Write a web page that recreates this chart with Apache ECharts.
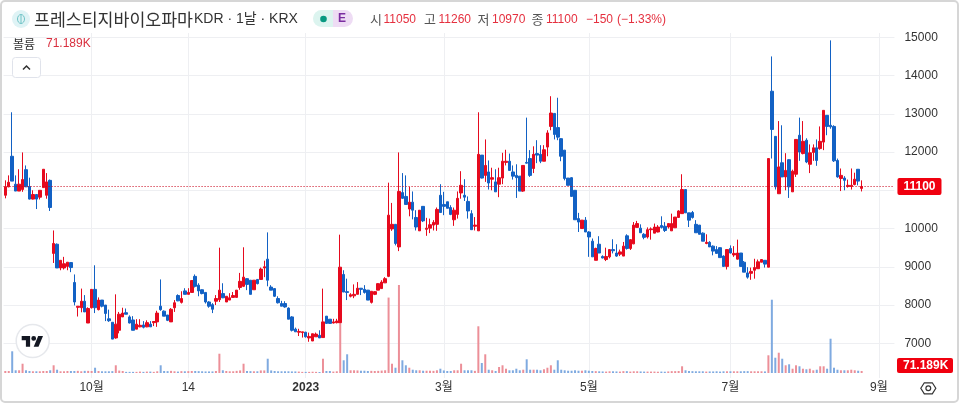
<!DOCTYPE html>
<html>
<head>
<meta charset="utf-8">
<title>프레스티지바이오파마</title>
<script src="https://cdn.jsdelivr.net/npm/echarts@6/dist/echarts.min.js"></script>
<style>
  html, body { margin: 0; padding: 0; background: #fff; }
  #chart { width: 960px; height: 404px; }
</style>
</head>
<body>
<div id="chart"></div>
<script>
// daily prices, one bar per trading day
const opens = [
  10870,11090,11890,11160,10980,11020,11540,11100,10770,10890,
  10820,11070,10870,11260,9350,9590,8970,8970,9010,9110,
  8590,7940,7930,8100,7530,7930,8410,7880,8130,8000,
  7640,7550,7140,7340,7690,7800,7690,7610,7370,7430,
  7480,7430,7500,7540,7560,7970,7840,7740,7560,7930,
  8250,8070,8370,8280,8330,8750,8520,8400,8330,8080,
  8010,8100,8140,8300,8080,8130,8200,8200,8460,8490,
  8690,8650,8400,8670,8670,8970,9200,8470,8430,8170,
  8040,8040,7920,7690,7370,7290,7280,7290,7140,7060,
  7170,7210,7150,7710,7630,7530,7540,7540,8800,8350,
  8230,8240,8280,8440,8410,8390,8070,8280,8390,8430,
  8580,8750,9990,10110,9520,10940,10840,10510,10690,10290,
  9940,10580,9980,10010,10090,10110,10870,10630,10700,10550,
  10230,10370,10930,10870,10710,10390,10060,9940,11920,11390,
  11480,11290,11220,11160,11320,11730,11760,11480,11390,11370,
  10980,11730,11830,11570,11960,11940,11760,12130,12670,13010,
  12640,12350,12050,11320,11330,11000,10260,10000,10220,9910,
  9670,9170,9590,9270,9190,9260,9450,9360,9330,9280,
  9810,9480,9600,10030,10010,9850,9780,9970,9880,9910,
  10080,10060,10040,9940,10020,10290,10390,11020,10410,10420,
  10110,10090,9880,9610,9640,9540,9450,9500,9280,9010,
  9480,9310,9200,9360,9120,8840,8830,8910,8950,9120,
  9170,8990,13590,12410,10910,11720,11350,11800,10960,11420,
  12440,11960,12310,11680,11990,12110,12090,12260,12960,12700,
  12670,11780,11310,11320,11100,11100,11150,11550,11050
];
const closes = [
  11090,11210,11240,10980,11160,11280,11090,10770,10890,10770,
  11000,11550,11220,10550,9610,8970,9170,9080,9120,8980,
  8080,7970,8100,7820,7910,8410,7930,8130,7970,7780,
  7590,7110,7500,7760,7790,7760,7530,7340,7500,7470,
  7420,7540,7430,7570,7790,7880,7710,7600,7890,8060,
  8110,8170,8280,8330,8640,8490,8370,8300,8080,7970,
  7890,8170,8390,8190,8230,8190,8250,8390,8620,8730,
  8540,8280,8650,8560,8940,9000,8650,8390,8230,8060,
  7970,7950,7630,7340,7300,7310,7300,7170,7180,7250,
  7240,7140,7560,7520,7520,7560,7580,8990,8340,8330,
  8270,8280,8440,8410,8330,8130,8360,8350,8560,8600,
  8690,10350,10110,9610,10970,10790,10630,10690,10480,10040,
  10480,10200,10010,10100,10160,10500,10420,10580,10530,10370,
  10480,10790,11130,10820,10460,9970,10090,11940,11320,11650,
  11190,11330,10960,11330,11760,11760,11520,11370,11330,10980,
  11650,11710,11390,11940,11920,11760,12060,12500,13020,12460,
  12390,11890,11310,11130,10840,10230,10170,10220,9910,9780,
  9260,9480,9360,9230,9270,9450,9420,9280,9390,9540,
  9480,9710,10090,10130,9890,9770,9970,9990,10040,10040,
  10030,9950,10130,10130,10300,10460,11020,10410,10220,10290,
  9890,9850,9670,9640,9520,9410,9350,9240,9010,9450,
  9360,9350,9360,9010,8860,8730,8880,8980,9130,9190,
  9070,11830,12590,11090,11610,11350,11520,11090,11500,12330,
  12000,12280,11740,11980,12110,11780,12280,13090,12670,12660,
  11770,11350,11390,11260,11130,11130,11290,11240,11100
];
const lows = [
  10790,11080,11240,10980,10980,10960,11090,10760,10760,10510,
  10760,11070,10780,10460,9100,8970,8910,8930,8910,8860,
  7990,7700,7810,7820,7530,7910,7790,7860,7940,7580,
  7560,7110,7120,7260,7690,7760,7520,7340,7370,7420,
  7390,7420,7430,7450,7430,7850,7710,7580,7560,7820,
  8100,8040,8280,8280,8330,8460,8230,8280,8040,7930,
  7790,8000,8080,8180,8080,8130,8200,8200,8400,8470,
  8390,8280,8400,8540,8670,8730,8490,8390,8210,8040,
  7970,7930,7630,7310,7300,7190,7150,7150,7040,7060,
  7170,7140,7150,7520,7520,7520,7520,7540,8340,8130,
  8200,8180,8280,8260,8300,8130,8040,8260,8390,8430,
  8580,8730,9940,9560,9410,10780,10630,10320,10240,9950,
  9940,10170,9810,9880,9950,9940,10410,10350,10530,10350,
  10070,10260,10780,10720,10260,9970,9950,9940,11310,11220,
  11020,11000,10960,10820,11160,11650,11520,11280,10800,10980,
  10960,11700,11350,11450,11710,11710,11760,11890,12570,12330,
  12310,11760,11260,11130,10840,10230,9910,10000,9910,9260,
  9260,9170,9360,9220,9150,9220,9350,9260,9280,9280,
  9450,9440,9590,10030,9890,9720,9740,9710,9880,9900,
  10000,9910,10000,9940,10020,10290,10390,10410,10040,10260,
  9890,9850,9670,9590,9520,9300,9350,9240,9010,8930,
  9350,9260,9190,9010,8860,8690,8660,8690,8950,9120,
  8980,8990,11830,11020,10910,11350,11000,10800,10960,11350,
  11770,11940,11710,11450,11770,11640,12060,12050,12440,12610,
  11740,11330,10980,11000,11070,11020,11130,11130,10970
];
const highs = [
  11260,11390,13040,11390,11550,11990,11650,11330,11000,10900,
  11000,11550,11450,11280,9950,9610,9170,9260,9120,9120,
  8800,7970,8430,8260,7940,8410,9040,8200,8130,8000,
  7880,7550,8280,7820,7930,7910,7730,7710,7630,7630,
  7580,7600,7580,7580,7850,8670,7860,7740,7920,8130,
  8280,8360,8440,8440,8650,8800,8570,8410,8330,8100,
  8050,8260,9500,8570,8230,8310,8340,8390,8840,9510,
  8700,8650,8650,8680,8980,9160,9900,8520,8440,8230,
  8110,8100,7940,7710,7410,7380,7300,7300,7280,7250,
  7280,7340,8430,7710,7630,7640,7640,9840,8910,8690,
  8310,8540,8600,8440,8520,8390,8360,8360,8570,8650,
  8730,11200,10670,10110,11990,11450,11390,11090,10970,10480,
  10480,10580,10280,10260,10220,10550,11160,10960,10700,10610,
  10550,10970,11500,11290,10840,10480,10300,13040,11920,12330,
  11780,11590,11550,11590,11980,12060,11960,11650,11680,11370,
  11650,12900,12050,12150,12310,12180,12180,12570,13460,13010,
  13420,12360,12050,11320,11340,11000,10410,10220,10300,9930,
  9740,9500,9800,9300,9500,9460,9720,9590,9450,9650,
  9850,9720,10170,10200,10110,9880,10030,10030,10130,10090,
  10320,10170,10130,10390,10300,10480,11420,11020,10410,10460,
  10220,10090,9900,9850,9670,9560,9540,9510,9300,9460,
  9560,9540,9710,9360,9150,8990,8980,9210,9190,9200,
  9170,11840,14500,12410,12810,12700,11970,11810,11540,12330,
  12900,12810,12360,12200,12200,12330,12670,13090,12960,14920,
  12700,11830,11570,11370,11280,11570,11460,11550,11260
];
// volume in thousands of shares
const volumes = [
  70,70,760,95,95,325,95,70,60,60,
  60,70,70,95,270,115,60,60,70,70,
  70,75,60,75,75,70,185,70,60,60,
  60,65,270,85,70,40,40,40,40,50,
  40,50,50,40,60,270,70,65,75,60,
  50,65,60,65,70,70,65,60,55,55,
  55,70,675,95,70,60,60,75,90,325,
  70,65,60,60,90,90,500,90,70,60,
  60,60,60,55,55,50,40,40,40,45,
  40,35,500,70,70,50,60,3185,445,655,
  95,95,90,80,80,70,75,70,75,85,
  95,2640,325,185,3080,445,270,185,115,95,
  95,80,80,80,75,95,150,90,70,70,
  95,95,325,95,95,95,75,1635,350,655,
  115,95,70,210,270,150,95,95,150,95,
  115,480,115,115,115,95,130,185,270,115,
  445,115,95,80,80,95,80,80,95,80,
  70,65,60,55,50,60,60,55,50,65,
  65,50,60,60,55,50,50,50,50,45,
  50,45,55,65,65,70,235,95,70,65,
  60,60,60,50,55,55,60,50,60,60,
  60,60,60,60,65,65,60,60,60,60,
  55,620,2565,535,710,500,270,305,150,270,
  235,150,130,150,95,115,235,235,150,1200,
  185,115,95,95,95,115,95,80,71.189
];

// time axis: bar slot of each label, empty slots run on past the last bar
const slotCount = 258;
const tickSlots = [25, 53, 87, 127, 169, 210, 253];
const tickLabels = ["10월", "14", "2023", "3월", "5월", "7월", "9월"];
const lastPrice = 11100;

const FONT = '"Liberation Sans", "Noto Sans CJK KR", sans-serif';
const KR = '"Noto Sans CJK KR", sans-serif';
const UP = "#e60a1e";
const DOWN = "#1261c4";
const UP_VOL = "#ec8f98";
const DOWN_VOL = "#7faae0";
const TEXT = "#333333";
const GRID = "#eeeff2";

const categories = Array.from({ length: slotCount }, (_, i) => String(i));
const isTick = (i) => tickSlots.indexOf(Number(i)) >= 0;

const candles = opens.map((o, i) => [o, closes[i], lows[i], highs[i]]);
const volumeBars = volumes.map((v, i) => ({
  value: v,
  itemStyle: { color: closes[i] >= opens[i] ? UP_VOL : DOWN_VOL },
}));

// header and small controls, drawn on top of the plot
const label = (x, y, text, fill, size, extra) => ({
  type: "text",
  z: 100,
  style: Object.assign(
    { x, y, text, fill, fontSize: size, fontFamily: FONT, textVerticalAlign: "middle" },
    extra
  ),
});

const overlay = [
  // outer frame
  { type: "rect", z: 99, shape: { x: 1, y: 1, width: 957, height: 401, r: 4 }, style: { fill: "none", stroke: "#d6d6d6", lineWidth: 2 } },
  // symbol icon
  { type: "circle", z: 100, shape: { cx: 21, cy: 19, r: 9 }, style: { fill: "#dff3f5" } },
  { type: "ellipse", z: 100, shape: { cx: 21, cy: 19, rx: 3.5, ry: 4.5 }, style: { fill: "none", stroke: "#6fc3c6", lineWidth: 1 } },
  { type: "line", z: 100, shape: { x1: 21, y1: 14.5, x2: 21, y2: 23.5 }, style: { stroke: "#6fc3c6", lineWidth: 1 } },
  label(34, 19.5, "프레스티지바이오파마", "#333", 17.3, { fontFamily: KR }),
  label(194, 19.5, "KDR · 1날 · KRX", "#333", 14),
  // status pills
  { type: "rect", z: 100, shape: { x: 313, y: 10, width: 20, height: 17, r: [8.5, 0, 0, 8.5] }, style: { fill: "#dcf4ef" } },
  { type: "rect", z: 100, shape: { x: 333, y: 10, width: 20, height: 17, r: [0, 8.5, 8.5, 0] }, style: { fill: "#eedcf4" } },
  { type: "circle", z: 101, shape: { cx: 323.5, cy: 19, r: 3.3 }, style: { fill: "#089981" } },
  label(338, 19, "E", "#7b2da0", 12, { fontWeight: "bold" }),
  // OHLC readout
  label(370, 19.5, "시", "#555", 13, { fontFamily: KR }),
  label(383.5, 19.5, "11050", "#e5303f", 12),
  label(424, 19.5, "고", "#555", 13, { fontFamily: KR }),
  label(438.5, 19.5, "11260", "#e5303f", 12),
  label(477.5, 19.5, "저", "#555", 13, { fontFamily: KR }),
  label(492, 19.5, "10970", "#e5303f", 12),
  label(531.5, 19.5, "종", "#555", 13, { fontFamily: KR }),
  label(546, 19.5, "11100", "#e5303f", 12),
  label(586, 19.5, "−150", "#e5303f", 12),
  label(617, 19.5, "(−1.33%)", "#e5303f", 12),
  // volume legend
  label(13, 44, "볼륨", "#333", 12, { fontFamily: KR }),
  label(46, 44, "71.189K", "#d9303f", 12),
  // collapse button
  { type: "rect", z: 100, shape: { x: 12.5, y: 57.5, width: 28, height: 20, r: 3 }, style: { fill: "#fff", stroke: "#e0e3eb", lineWidth: 1 } },
  { type: "polyline", z: 101, shape: { points: [[23, 69.5], [26.5, 66], [30, 69.5]] }, style: { fill: "none", stroke: "#333", lineWidth: 1.5 } },
  // TradingView badge
  { type: "circle", z: 100, shape: { cx: 32.7, cy: 341, r: 16.5 }, style: { fill: "#fff", stroke: "#e6e8ec", lineWidth: 1.5 } },
  { type: "polygon", z: 101, shape: { points: [[30.1, 346.8], [25.9, 346.8], [25.9, 340.2], [21.7, 340.2], [21.7, 336], [30.1, 336]] }, style: { fill: "#131722" } },
  { type: "polygon", z: 101, shape: { points: [[38.5, 346.8], [33.7, 346.8], [38.2, 336], [43, 336]] }, style: { fill: "#131722" } },
  { type: "circle", z: 101, shape: { cx: 33.7, cy: 338.4, r: 2.4 }, style: { fill: "#131722" } },
  // last volume tag
  { type: "rect", z: 100, shape: { x: 897, y: 358, width: 56, height: 15, r: 2 }, style: { fill: "#f0000f" } },
  label(903, 365.8, "71.189K", "#fff", 12, { fontWeight: "bold" }),
  // settings button
  { type: "polygon", z: 100, shape: { points: [[920.8, 388.3], [924.3, 382.8], [932.3, 382.8], [935.8, 388.3], [932.3, 393.8], [924.3, 393.8]] }, style: { fill: "none", stroke: "#333", lineWidth: 1.2 } },
  { type: "circle", z: 100, shape: { cx: 928.3, cy: 388.3, r: 2.4 }, style: { fill: "none", stroke: "#333", lineWidth: 1.2 } },
];

const chart = echarts.init(document.getElementById("chart"), null, { renderer: "canvas" });

chart.setOption({
  animation: false,
  backgroundColor: "#fff",
  textStyle: { fontFamily: FONT },
  graphic: overlay,
  grid: [
    // price pane, 15000 at y=37 and 7000 at y=343
    { left: 3.57, top: 37.3, width: 890.87, height: 306 },
    // volume pane shares the slots and carries the time axis
    { left: 3.57, top: 33, width: 890.87, height: 345 },
  ],
  xAxis: [
    {
      type: "category",
      gridIndex: 0,
      data: categories,
      show: false,
    },
    {
      type: "category",
      gridIndex: 1,
      data: categories,
      axisLine: { show: false },
      axisTick: { show: false, alignWithLabel: true, interval: (i) => isTick(i) },
      splitLine: {
        show: true,
        alignWithLabel: true,
        interval: (i) => isTick(i),
        lineStyle: { color: GRID, width: 1 },
      },
      axisLabel: {
        interval: (i) => isTick(i),
        margin: 4,
        fontSize: 12,
        color: TEXT,
        fontFamily: FONT,
        formatter: (v) => {
          const text = tickLabels[tickSlots.indexOf(Number(v))];
          return text === "2023" ? "{year|" + text + "}" : text;
        },
        rich: {
          year: { fontWeight: "bold", fontSize: 12, color: TEXT, fontFamily: FONT },
        },
      },
    },
  ],
  yAxis: [
    {
      type: "value",
      gridIndex: 0,
      position: "right",
      min: 7000,
      max: 15000,
      interval: 1000,
      axisLine: { show: false },
      axisTick: { show: false },
      splitLine: { lineStyle: { color: GRID, width: 1 } },
      axisLabel: {
        margin: 10,
        fontSize: 12,
        color: TEXT,
        fontFamily: FONT,
        formatter: (v) => String(v),
      },
    },
    {
      type: "value",
      gridIndex: 1,
      show: false,
      min: -175,
      max: 11900,
      splitLine: { show: false },
    },
  ],
  series: [
    {
      name: "볼륨",
      type: "bar",
      xAxisIndex: 1,
      yAxisIndex: 1,
      barWidth: 2,
      z: 1,
      silent: true,
      data: volumeBars,
    },
    {
      name: "프레스티지바이오파마",
      type: "candlestick",
      xAxisIndex: 0,
      yAxisIndex: 0,
      barWidth: 3,
      z: 2,
      itemStyle: {
        color: UP,
        color0: DOWN,
        borderColor: UP,
        borderColor0: DOWN,
        borderWidth: 1,
      },
      data: candles,
      markLine: {
        silent: true,
        symbol: "none",
        animation: false,
        lineStyle: { color: "#c80018", type: [1, 2], width: 1 },
        label: {
          position: "end",
          distance: 3,
          formatter: String(lastPrice),
          backgroundColor: "#f0000f",
          color: "#fff",
          fontWeight: "bold",
          fontSize: 12,
          fontFamily: FONT,
          padding: [3, 6, 2, 6],
          borderRadius: 2,
        },
        data: [{ yAxis: lastPrice }],
      },
    },
  ],
});
</script>
</body>
</html>
